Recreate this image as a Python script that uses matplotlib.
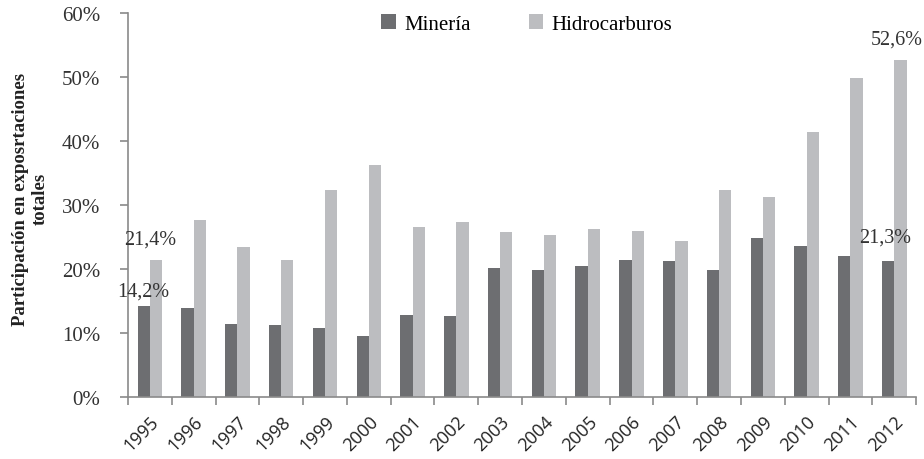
import numpy as np
import matplotlib.pyplot as plt

years = [str(y) for y in range(1995, 2013)]
mineria = [14.2, 13.9, 11.4, 11.2, 10.8, 9.5, 12.8, 12.7, 20.2, 19.9,
           20.4, 21.4, 21.2, 19.8, 24.9, 23.6, 22.0, 21.3]
hidrocarburos = [21.4, 27.6, 23.4, 21.4, 32.3, 36.3, 26.6, 27.3, 25.8, 25.3,
                 26.2, 25.9, 24.4, 32.4, 31.2, 41.4, 49.9, 52.6]

serif = ["Liberation Serif", "DejaVu Serif"]
c_min = "#6d6e71"
c_hid = "#bcbdc0"
axc = "#8a8a8a"

fig = plt.figure(figsize=(9.24, 4.6), dpi=100)
ax = fig.add_axes([0.1385, 0.135, 0.853, 0.8346])

x = np.arange(len(years))
w = 0.28
ax.bar(x - w / 2, mineria, w, color=c_min, label="Minería")
ax.bar(x + w / 2, hidrocarburos, w, color=c_hid, label="Hidrocarburos")

ax.set_xlim(-0.5, len(years) - 0.5)
ax.set_ylim(0, 60)
ax.set_yticks(range(0, 61, 10))
ax.set_yticklabels([f"{v}%" for v in range(0, 61, 10)], fontfamily=serif,
                   fontsize=15, color="#333333")

# year labels centred on categories, tick marks between categories
ax.set_xticks(x)
ax.set_xticklabels(years, rotation=45, ha="right", rotation_mode="anchor",
                   fontfamily="Open Sans", fontsize=13, color="#222222")
ax.tick_params(axis="x", length=0, pad=11)
ax.set_xticks(np.arange(-0.5, len(years), 1), minor=True)
ax.tick_params(axis="x", which="minor", length=6, color=axc, width=1.2)
ax.tick_params(axis="y", length=6, color=axc, width=1.2, pad=14)

for s in ["top", "right"]:
    ax.spines[s].set_visible(False)
for s in ["left", "bottom"]:
    ax.spines[s].set_color(axc)
    ax.spines[s].set_linewidth(1.2)

fig.text(0.033, 0.567, "Participación en exposrtaciones\ntotales",
         fontfamily=serif, fontsize=13.5, fontweight="bold", color="#222222",
         rotation=90, ha="center", va="center", multialignment="center")

ann = dict(fontfamily=serif, fontsize=14.5, color="#333333", ha="center")
ax.text(x[0] - 0.15, mineria[0] + 1.6, "14,2%", **ann)
ax.text(x[0], hidrocarburos[0] + 2.6, "21,4%", **ann)
ax.text(x[-1] - 0.2, mineria[-1] + 3.0, "21,3%", **ann)
ax.text(x[-1] + 0.05, hidrocarburos[-1] + 2.6, "52,6%", **ann)

leg = ax.legend(loc="upper center", bbox_to_anchor=(0.506, 1.045), ncol=2,
                frameon=False, prop={"family": serif, "size": 15},
                handlelength=0.7, handleheight=0.7, columnspacing=2.8,
                handletextpad=0.4)

fig.savefig("out.png", dpi=100)
